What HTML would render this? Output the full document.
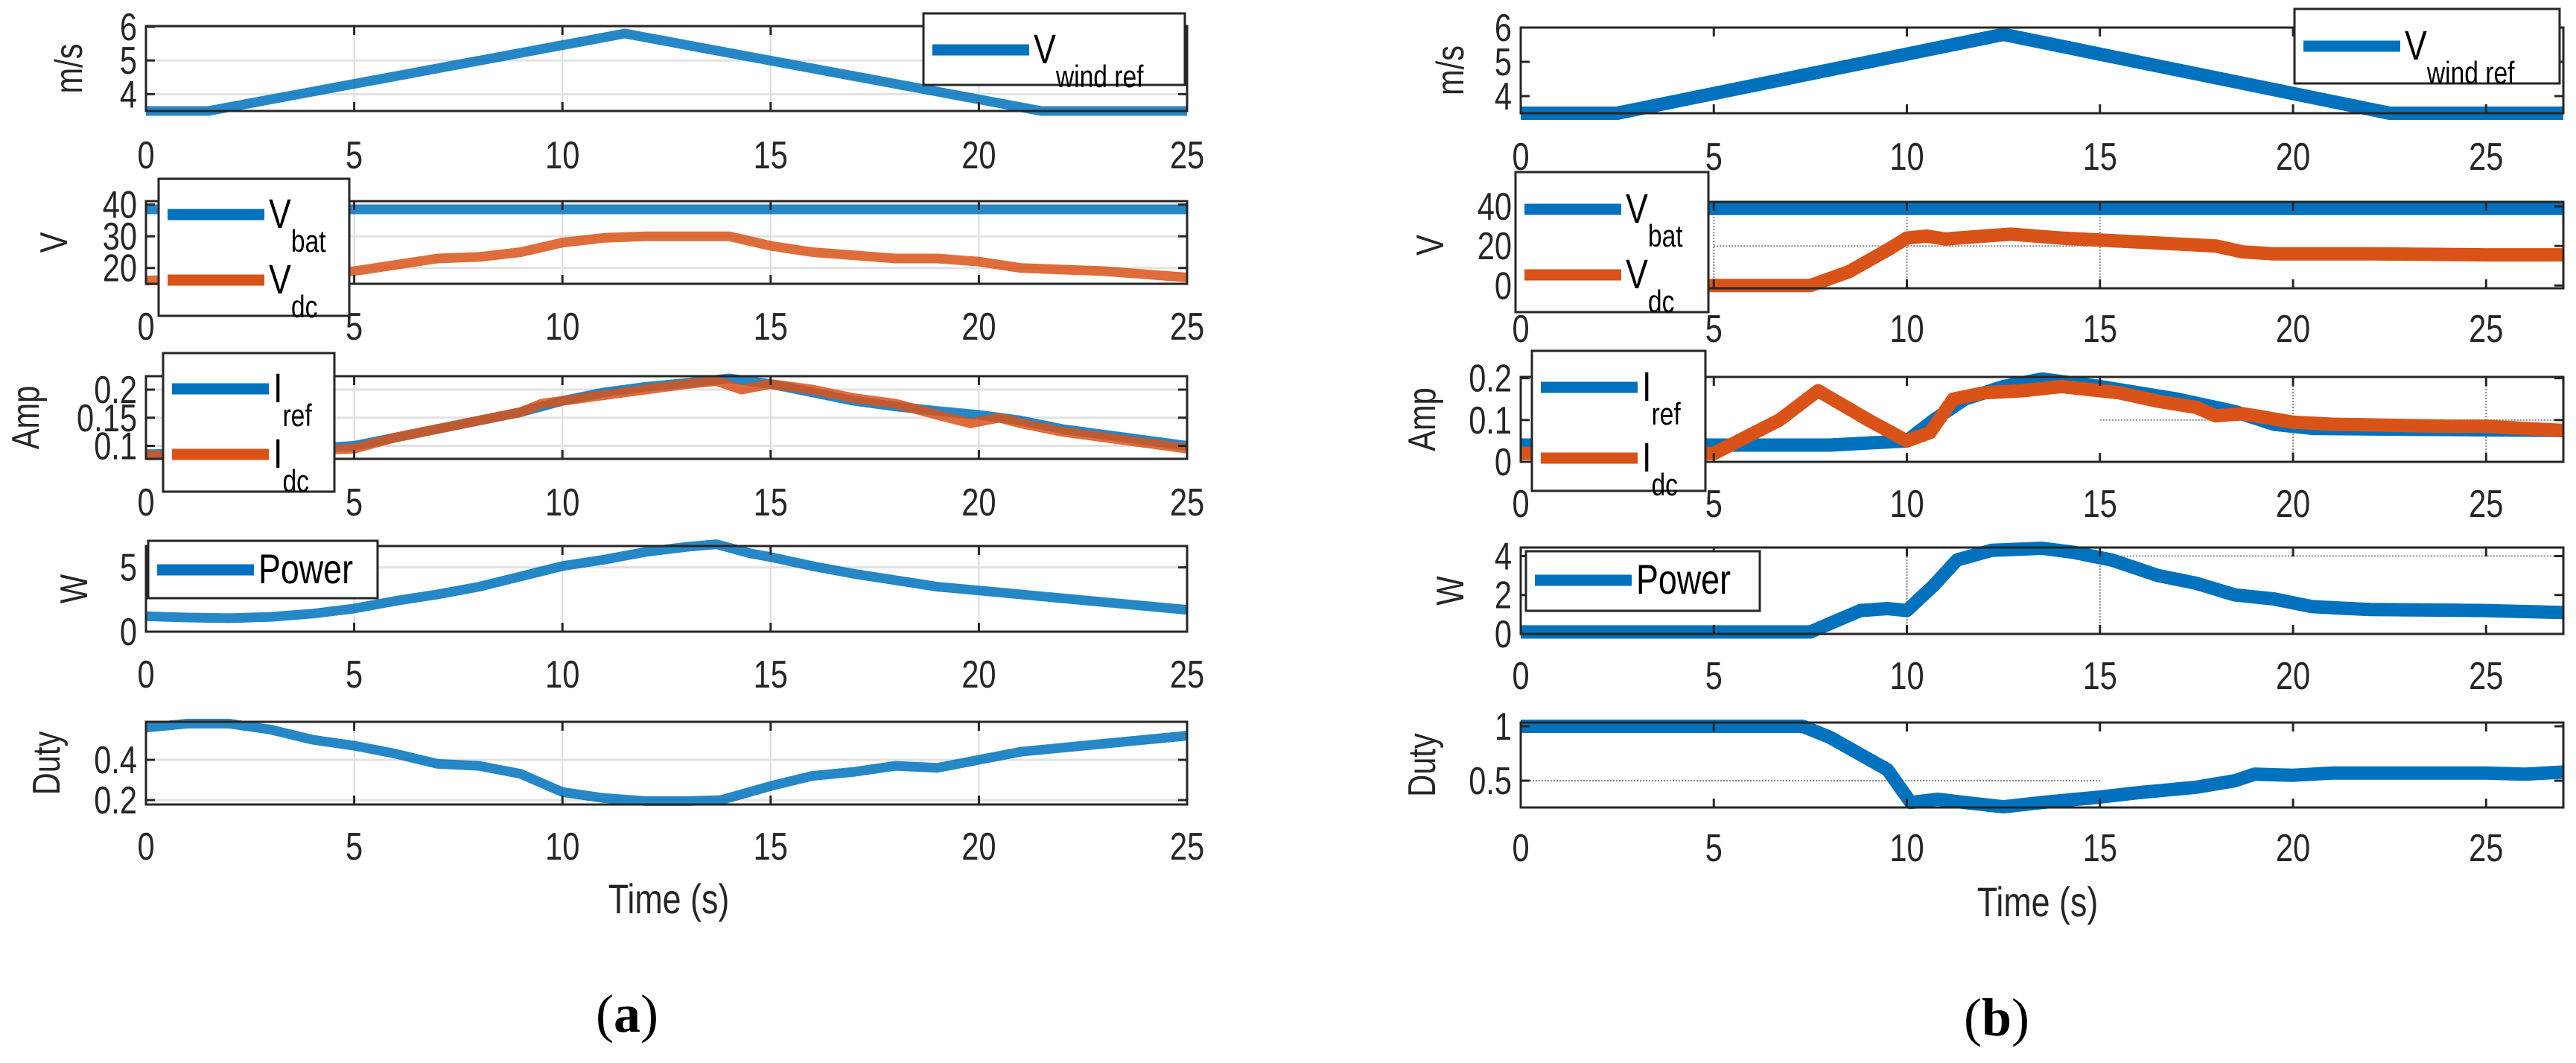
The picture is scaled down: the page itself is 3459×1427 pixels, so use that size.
<!DOCTYPE html>
<html><head><meta charset="utf-8">
<style>
html,body{margin:0;padding:0;background:#fff;}
svg{display:block;font-family:"Liberation Sans",sans-serif;}
</style></head>
<body>
<svg id="fig" xmlns="http://www.w3.org/2000/svg" width="3459" height="1427" viewBox="0 0 3459 1427"></svg>
<script>
// ---------- DATA (a) ----------
const xTicksA = [0,5,10,15,20,25];
const windTA = [0,1.5,11.5,21.5,25];
const windVA = [3.5,3.5,5.8,3.5,3.5];
const vbatTA = [0,25];
const vbatVA = [38.5,38.5];
const vdcTA = [0,2,5,6,7,8,9,10,11,12,13,14,15,16,17,18,19,20,21,22,23,24,25];
const vdcVA = [16,17,19,21,23,23.5,25,28,29.5,30,30,30,27,25,24,23,23,22,20,19.5,19,18,17];
const irefTA = [0,2,5,7,9,10,11,12,13,14,15,16,17,18,19,20,21,22,23,24,25];
const irefVA = [0.085,0.087,0.1,0.13,0.16,0.18,0.195,0.205,0.212,0.22,0.21,0.195,0.18,0.17,0.162,0.155,0.145,0.13,0.12,0.11,0.1];
const idcTA = [0,2,5,6,7,8,9,9.5,10,11,12,13,13.7,14.3,15,16,17,18,19,19.8,20.5,21,22,23,24,25];
const idcVA = [0.083,0.085,0.095,0.115,0.13,0.145,0.16,0.175,0.18,0.19,0.2,0.21,0.215,0.2,0.21,0.2,0.185,0.175,0.155,0.14,0.15,0.14,0.125,0.115,0.105,0.095];
const powTA = [0,1,2,3,4,5,6,7,8,9,10,11,12,13,13.7,14.5,15,16,17,18,19,20,21,22,23,24,25];
const powVA = [1.2,1.1,1.05,1.15,1.4,1.8,2.4,2.9,3.5,4.3,5.1,5.6,6.2,6.6,6.8,6.1,5.8,5.1,4.5,4.0,3.5,3.2,2.9,2.6,2.3,2.0,1.7];
const dutyTA = [0,1,2,3,4,5,6,7,8,9,10,11,12,13,13.8,15,16,17,18,19,20,21,22,23,24,25];
const dutyVA = [0.56,0.58,0.58,0.55,0.5,0.47,0.43,0.38,0.37,0.33,0.24,0.21,0.195,0.195,0.2,0.27,0.32,0.34,0.37,0.36,0.4,0.44,0.46,0.48,0.5,0.52];
// ---------- DATA (b) ----------
const xTicksB = [0,5,10,15,20,25];
const windTB = [0,2.5,12.5,22.5,27];
const windVB = [3.5,3.5,5.8,3.5,3.5];
const vbatTB = [0,27];
const vbatVB = [39,39];
const vdcTB = [0,7.5,8.5,9.5,10,10.5,11,12,12.7,14,16,18,18.7,19.5,22,25,27];
const vdcVB = [0,0,7,18,24,25,23.5,25,26,24,22,20,17,16,16,15.5,15.5];
const irefTB = [0,5,8,9,10,10.7,11.5,12.5,13.5,15,17,18.5,19.5,20.5,23,27];
const irefVB = [0.04,0.04,0.04,0.045,0.05,0.1,0.15,0.18,0.198,0.18,0.15,0.12,0.09,0.08,0.078,0.075];
const idcTB = [0,5,6.7,7.7,9,10,10.6,11.2,12,13,14,15.5,16.5,17.5,18,18.7,20,21,24,25,27];
const idcVB = [0.02,0.02,0.1,0.17,0.1,0.05,0.07,0.15,0.165,0.17,0.18,0.165,0.145,0.13,0.11,0.115,0.095,0.09,0.085,0.085,0.075];
const powTB = [0,7.5,8.2,8.8,9.5,10,10.7,11.3,12.2,13.5,14.3,15.3,16.5,17.5,18.5,19.5,20.5,22,25,27];
const powVB = [0.1,0.1,0.7,1.2,1.3,1.2,2.5,3.8,4.3,4.4,4.2,3.8,3.0,2.6,2.0,1.8,1.4,1.25,1.2,1.1];
const dutyTB = [0,7.3,8,9.5,10.1,10.8,11.5,12.5,13.5,15,16,17.5,18.5,19,20,21,25,26,27];
const dutyVB = [1,1,0.9,0.6,0.3,0.33,0.3,0.26,0.3,0.35,0.39,0.44,0.5,0.56,0.55,0.57,0.57,0.56,0.58];

const BLUE="#0072BD", ORANGE="#D95319", AX="#262626";
const svg=document.getElementById('fig');
const NS="http://www.w3.org/2000/svg";
const condensed=[];
function el(tag,attrs,parent){const e=document.createElementNS(NS,tag);for(const k in attrs)e.setAttribute(k,attrs[k]);(parent||svg).appendChild(e);return e;}
function txt(x,y,s,size,anchor,parent){const t=el('text',{x:x,y:y,'font-size':size,'text-anchor':anchor||'middle',fill:AX},parent);t.textContent=s;condensed.push(t);return t;}

function panel(name,o){
  const g=el('g',{});
  
  
  const sx=t=>o.x0+(t-o.tmin)/(o.tmax-o.tmin)*(o.x1-o.x0);
  const sy=v=>o.y1-(v-o.vmin)/(o.vmax-o.vmin)*(o.y1-o.y0);
  if(o.grid){
    o.xticks.forEach(t=>{if(t>o.tmin&&t<o.tmax)el('line',{x1:sx(t),x2:sx(t),y1:o.y0,y2:o.y1,stroke:'#dcdcdc','stroke-width':2},g);});
    o.yticks.forEach(v=>{el('line',{x1:o.x0,x2:o.x1,y1:sy(v),y2:sy(v),stroke:'#e2e2e2','stroke-width':3},g);});
  }
  (o.dots||[]).forEach(d=>{
    if(d.v!==undefined) el('line',{x1:sx(d.t0),x2:sx(d.t1),y1:sy(d.v),y2:sy(d.v),stroke:'#888','stroke-width':2,'stroke-dasharray':'2,2'},g);
    else el('line',{x1:sx(d.t),x2:sx(d.t),y1:o.y0,y2:o.y1,stroke:'#888','stroke-width':2,'stroke-dasharray':'2,2'},g);
  });
  o.series.forEach(s=>{
    const p=el('polyline',{points:s.t.map((t,i)=>sx(t).toFixed(1)+','+sy(s.v[i]).toFixed(1)).join(' '),fill:'none',stroke:s.c,'stroke-width':o.lw,'stroke-linejoin':'round','stroke-opacity':o.op||1},g);
    
    
  });
  el('rect',{x:o.x0,y:o.y0,width:o.x1-o.x0,height:o.y1-o.y0,fill:'none',stroke:AX,'stroke-width':3},g);
  o.xticks.forEach(t=>{
    if(t>o.tmin&&t<o.tmax){el('line',{x1:sx(t),x2:sx(t),y1:o.y1,y2:o.y1-12,stroke:AX,'stroke-width':3},g);el('line',{x1:sx(t),x2:sx(t),y1:o.y0,y2:o.y0+12,stroke:AX,'stroke-width':3},g);}
    const l=txt(sx(t),o.xlab,String(t),52,'middle',g);
    
    
  });
  o.yticks.forEach((v,i)=>{
    el('line',{x1:o.x0,x2:o.x0+12,y1:sy(v),y2:sy(v),stroke:AX,'stroke-width':3},g);
    el('line',{x1:o.x1,x2:o.x1-12,y1:sy(v),y2:sy(v),stroke:AX,'stroke-width':3},g);
    const l=txt(o.x0-12,sy(v)+18,o.ylabels[i],52,'end',g);
    
    
  });
  const yl=txt(0,0,o.ylabel,52,'middle',g);
  yl.setAttribute('transform','translate('+o.ylx+','+((o.y0+o.y1)/2)+') rotate(-90)');
  
  
  const L=o.legend;
  if(L){
  const lg=el('g',{},g);
  
  
  el('rect',{x:L.x,y:L.y,width:L.w,height:L.h,fill:'#fff',stroke:AX,'stroke-width':3},lg);
  L.items.forEach(it=>{
    el('line',{x1:L.x+12,x2:L.x+142,y1:it.y,y2:it.y,stroke:it.c,'stroke-width':15},lg);
    const t=el('text',{x:L.x+148,y:it.y+18,'font-size':56,fill:'#000'},lg);
    t.textContent=it.main;
    if(it.sub){const ts=el('tspan',{dy:32,'font-size':42},t);ts.textContent=it.sub;}
    condensed.push(t);
  });
  }
  return g;
}

const XA={x0:196,x1:1594,tmin:0,tmax:25,grid:true,lw:13,op:0.85,ylx:0};
panel('panel-a-wind',Object.assign({},XA,{y0:35,y1:149,vmin:3.5,vmax:6.02,xticks:xTicksA,xlab:226,yticks:[4,5,6],ylabels:['4','5','6'],ylabel:'m/s',ylx:110,
 series:[{name:'vwind-line',t:windTA,v:windVA,c:BLUE}],
 legend:{x:1240,y:18,w:351,h:96,items:[{y:67,c:BLUE,main:'V',sub:'wind ref'}]}}));
panel('panel-a-voltage',Object.assign({},XA,{y0:270,y1:381,vmin:15,vmax:41.1,xticks:xTicksA,xlab:456,yticks:[20,30,40],ylabels:['20','30','40'],ylabel:'V',ylx:90,
 series:[{name:'vbat-line',t:vbatTA,v:vbatVA,c:BLUE},{name:'vdc-line',t:vdcTA,v:vdcVA,c:ORANGE}],
 legend:{x:213,y:240,w:256,h:184,items:[{y:288,c:BLUE,main:'V',sub:'bat'},{y:376,c:ORANGE,main:'V',sub:'dc'}]}}));
panel('panel-a-current',Object.assign({},XA,{y0:505,y1:616,vmin:0.0768,vmax:0.2239,xticks:xTicksA,xlab:692,yticks:[0.1,0.15,0.2],ylabels:['0.1','0.15','0.2'],ylabel:'Amp',ylx:52,
 series:[{name:'iref-line',t:irefTA,v:irefVA,c:BLUE},{name:'idc-line',t:idcTA,v:idcVA,c:ORANGE}],
 legend:{x:219,y:474,w:230,h:186,items:[{y:522,c:BLUE,main:'I',sub:'ref'},{y:610,c:ORANGE,main:'I',sub:'dc'}]}}));
panel('panel-a-power',Object.assign({},XA,{y0:733,y1:848,vmin:0,vmax:6.66,xticks:xTicksA,xlab:923,yticks:[0,5],ylabels:['0','5'],ylabel:'W',ylx:117,
 series:[{name:'power-line',t:powTA,v:powVA,c:BLUE}],
 legend:{x:199,y:726,w:308,h:77,items:[{y:765,c:BLUE,main:'Power'}]}}));
panel('panel-a-duty',Object.assign({},XA,{y0:969,y1:1080,vmin:0.178,vmax:0.589,xticks:xTicksA,xlab:1154,yticks:[0.2,0.4],ylabels:['0.2','0.4'],ylabel:'Duty',ylx:80,
 series:[{name:'duty-line',t:dutyTA,v:dutyVA,c:BLUE}],legend:null}));

const XB={x0:2042,x1:3442,tmin:0,tmax:27,grid:false,lw:18,ylx:0};
panel('panel-b-wind',Object.assign({},XB,{y0:37,y1:152,vmin:3.5,vmax:6.0,xticks:xTicksB,xlab:228,yticks:[4,5,6],ylabels:['4','5','6'],ylabel:'m/s',ylx:1965,
 series:[{name:'vwind-line-b',t:windTB,v:windVB,c:BLUE}],
 legend:{x:3081,y:12,w:356,h:100,items:[{y:62,c:BLUE,main:'V',sub:'wind ref'}]}}));
panel('panel-b-voltage',Object.assign({},XB,{y0:271,y1:387,vmin:-1.4,vmax:42.3,xticks:xTicksB,xlab:459,yticks:[0,20,40],ylabels:['0','20','40'],ylabel:'V',ylx:1938,
 dots:[{t0:5,t1:15,v:20},{t:5},{t:10},{t:15}],
 series:[{name:'vbat-line-b',t:vbatTB,v:vbatVB,c:BLUE},{name:'vdc-line-b',t:vdcTB,v:vdcVB,c:ORANGE}],
 legend:{x:2035,y:231,w:259,h:188,items:[{y:281,c:BLUE,main:'V',sub:'bat'},{y:369,c:ORANGE,main:'V',sub:'dc'}]}}));
panel('panel-b-current',Object.assign({},XB,{y0:506,y1:620,vmin:0,vmax:0.203,xticks:xTicksB,xlab:694,yticks:[0,0.1,0.2],ylabels:['0','0.1','0.2'],ylabel:'Amp',ylx:1927,
 dots:[{t0:15,t1:27,v:0.1},{t:20},{t:25}],
 series:[{name:'iref-line-b',t:irefTB,v:irefVB,c:BLUE},{name:'idc-line-b',t:idcTB,v:idcVB,c:ORANGE}],
 legend:{x:2057,y:471,w:233,h:188,items:[{y:520,c:BLUE,main:'I',sub:'ref'},{y:615,c:ORANGE,main:'I',sub:'dc'}]}}));
panel('panel-b-power',Object.assign({},XB,{y0:735,y1:851,vmin:0,vmax:4.44,xticks:xTicksB,xlab:925,yticks:[0,2,4],ylabels:['0','2','4'],ylabel:'W',ylx:1965,
 dots:[{t0:15,t1:27,v:4},{t:10},{t:15}],
 series:[{name:'power-line-b',t:powTB,v:powVB,c:BLUE}],
 legend:{x:2049,y:740,w:314,h:80,items:[{y:779,c:BLUE,main:'Power'}]}}));
panel('panel-b-duty',Object.assign({},XB,{y0:970,y1:1084,vmin:0.254,vmax:1.034,xticks:xTicksB,xlab:1156,yticks:[0.5,1],ylabels:['0.5','1'],ylabel:'Duty',ylx:1927,
 dots:[{t0:0,t1:15,v:0.5}],
 series:[{name:'duty-line-b',t:dutyTB,v:dutyVB,c:BLUE}],legend:null}));

let t;
t=txt(898,1226,'Time (s)',56,'middle');


t=txt(2736,1230,'Time (s)',56,'middle');


t=el('text',{x:842,y:1385,'font-size':72,'text-anchor':'middle','font-family':'Liberation Serif, serif',fill:'#000'});
t.innerHTML='(<tspan font-weight="bold">a</tspan>)';


t=el('text',{x:2681,y:1390,'font-size':72,'text-anchor':'middle','font-family':'Liberation Serif, serif',fill:'#000'});
t.innerHTML='(<tspan font-weight="bold">b</tspan>)';



// condense text to mimic narrow MATLAB font
condensed.forEach(e=>{
  try{const len=e.getComputedTextLength();if(len>0){e.setAttribute('textLength',(len*0.8).toFixed(1));e.setAttribute('lengthAdjust','spacingAndGlyphs');}}catch(err){}
});
</script>
</body></html>
